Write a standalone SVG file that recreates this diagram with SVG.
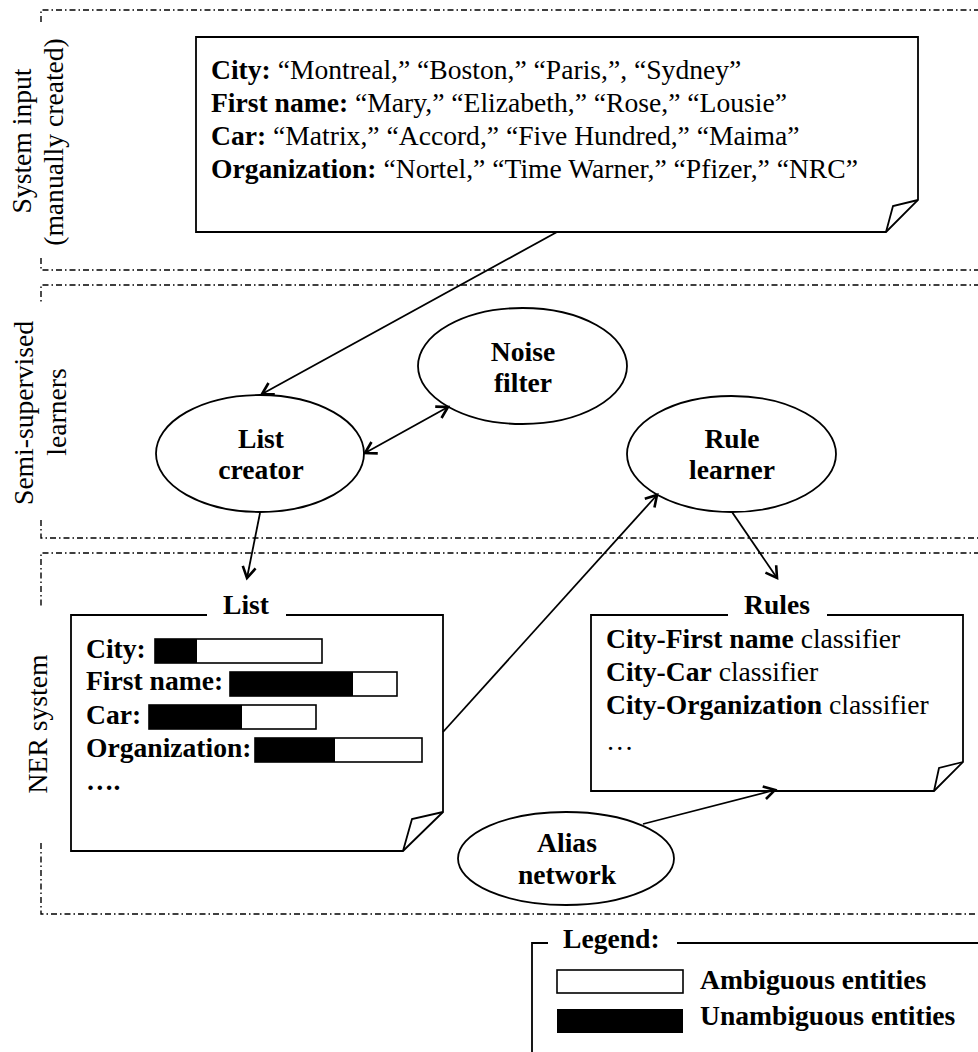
<svg xmlns="http://www.w3.org/2000/svg" width="978" height="1052" viewBox="0 0 978 1052">
  <style>
    text { font-family: "Liberation Serif", "Times New Roman", serif; font-size: 27.6px; fill: #000; }
    .b { font-weight: bold; }
    .mid { text-anchor: middle; }
    .zone { fill: none; stroke: #000; stroke-width: 1.4; stroke-dasharray: 6 3 1.5 3; }
    .shape { fill: #fff; stroke: #000; stroke-width: 1.8; }
    .line { fill: none; stroke: #000; stroke-width: 1.8; }
    .bar { fill: #fff; stroke: #000; stroke-width: 1.6; }
    .fill { fill: #000; }
    .edge { fill: none; stroke: #000; stroke-width: 1.8; marker-end: url(#arrow); }
  </style>
  <defs>
    <marker id="arrow" viewBox="0 0 16 16" refX="13" refY="8" markerWidth="16" markerHeight="16" markerUnits="userSpaceOnUse" orient="auto-start-reverse">
      <path d="M2,1.5 L13,8 L2,14.5" fill="none" stroke="#000" stroke-width="2.6" stroke-linejoin="miter"/>
    </marker>
  </defs>
  <rect width="978" height="1052" fill="#fff"/>

  <!-- layer bands; the left edge breaks around each band label -->
  <g id="zones">
    <path class="zone" d="M980,10 H41 V22 M41,258 V270 H980"/>
    <path class="zone" d="M980,285 H41 V303 M41,520 V538 H980"/>
    <path class="zone" d="M980,553 H41 V607 M41,843 V914 H980"/>
    <text transform="translate(31,141) rotate(-90)" class="mid">System input</text>
    <text transform="translate(63,142) rotate(-90)" class="mid">(manually created)</text>
    <text transform="translate(33,413) rotate(-90)" class="mid">Semi-supervised</text>
    <text transform="translate(66,412) rotate(-90)" class="mid">learners</text>
    <text transform="translate(47,724) rotate(-90)" class="mid">NER system</text>
  </g>

  <!-- seed input note -->
  <g id="input">
    <path class="shape" d="M196,37 H918 V200 L886,232 H196 Z"/>
    <path class="line" d="M918,200 L893,206 L886,232"/>
    <text x="211" y="79"><tspan class="b">City:</tspan> “Montreal,” “Boston,” “Paris,”, “Sydney”</text>
    <text x="211" y="112"><tspan class="b">First name:</tspan> “Mary,” “Elizabeth,” “Rose,” “Lousie”</text>
    <text x="211" y="145"><tspan class="b">Car:</tspan> “Matrix,” “Accord,” “Five Hundred,” “Maima”</text>
    <text x="211" y="178"><tspan class="b">Organization:</tspan> “Nortel,” “Time Warner,” “Pfizer,” “NRC”</text>
  </g>

  <g id="list-creator">
    <ellipse class="shape" cx="260" cy="453.5" rx="104" ry="58.5"/>
    <text x="261" y="448" class="b mid">List</text>
    <text x="261" y="479" class="b mid">creator</text>
  </g>

  <g id="noise-filter">
    <ellipse class="shape" cx="522.5" cy="366" rx="104.5" ry="58"/>
    <text x="523" y="361" class="b mid">Noise</text>
    <text x="523" y="392" class="b mid">filter</text>
  </g>

  <g id="rule-learner">
    <ellipse class="shape" cx="731.5" cy="454" rx="104.5" ry="58"/>
    <text x="732" y="448" class="b mid">Rule</text>
    <text x="732" y="479" class="b mid">learner</text>
  </g>

  <!-- list note with entity bars -->
  <g id="list">
    <path class="shape" d="M207,615 H71 V851 H403 L443,812 V615 H286"/>
    <path class="line" d="M443,812 L412,819 L403,851"/>
    <text x="246" y="614" class="b mid">List</text>
    <text x="86" y="658" class="b">City:</text>
    <rect class="bar" x="155" y="639" width="167" height="24"/>
    <rect class="fill" x="155" y="639" width="42" height="24"/>
    <text x="86" y="690" class="b">First name:</text>
    <rect class="bar" x="230" y="672" width="167" height="24"/>
    <rect class="fill" x="230" y="672" width="123" height="24"/>
    <text x="86" y="724" class="b">Car:</text>
    <rect class="bar" x="149" y="705" width="167" height="24"/>
    <rect class="fill" x="149" y="705" width="93" height="24"/>
    <text x="86" y="757" class="b">Organization:</text>
    <rect class="bar" x="255" y="738" width="167" height="24"/>
    <rect class="fill" x="255" y="738" width="80" height="24"/>
    <text x="86" y="790" class="b">….</text>
  </g>

  <!-- rules note -->
  <g id="rules">
    <path class="shape" d="M728,615 H591 V791 H934 L963,762 V615 H827"/>
    <path class="line" d="M963,762 L939,768 L934,791"/>
    <text x="777" y="614" class="b mid">Rules</text>
    <text x="606" y="648"><tspan class="b">City-First name</tspan> classifier</text>
    <text x="606" y="681"><tspan class="b">City-Car</tspan> classifier</text>
    <text x="606" y="714"><tspan class="b">City-Organization</tspan> classifier</text>
    <text x="606" y="750">…</text>
  </g>

  <g id="alias-network">
    <ellipse class="shape" cx="566" cy="858.5" rx="108" ry="46.5"/>
    <text x="567" y="852" class="b mid">Alias</text>
    <text x="567" y="884" class="b mid">network</text>
  </g>

  <g id="connectors">
    <path class="edge" d="M557,232 L262,394"/>
    <path class="edge" d="M365,453 L448,407" marker-start="url(#arrow)"/>
    <path class="edge" d="M260,513 L247,578"/>
    <path class="edge" d="M443,732 L657,495"/>
    <path class="edge" d="M732,512 L777,578"/>
    <path class="edge" d="M643,824 L775,790"/>
  </g>

  <g id="legend">
    <path class="line" d="M548,943 H532 V1052"/>
    <path class="line" d="M677,943 H980"/>
    <text x="563" y="948" class="b">Legend:</text>
    <rect class="bar" x="557" y="970" width="126" height="23"/>
    <text x="700" y="989" class="b">Ambiguous entities</text>
    <rect class="fill" x="557" y="1009" width="126" height="24"/>
    <text x="700" y="1025" class="b">Unambiguous entities</text>
  </g>
</svg>
